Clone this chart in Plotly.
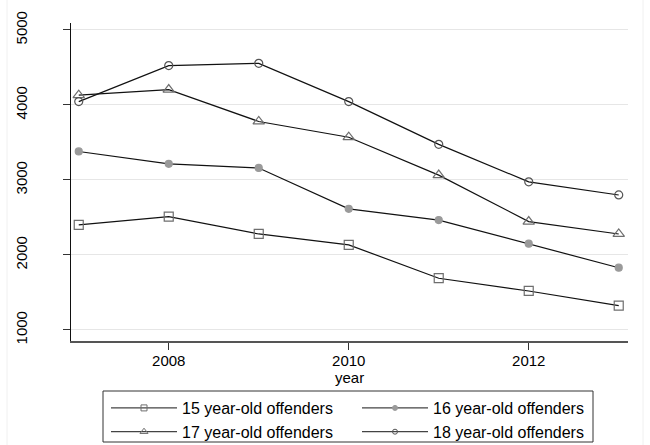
import plotly.graph_objects as go

# Offenders by age, 2007-2013
years = [2007, 2008, 2009, 2010, 2011, 2012, 2013]
age15 = [2400, 2510, 2280, 2135, 1690, 1520, 1325]
age16 = [3380, 3215, 3160, 2615, 2465, 2150, 1830]
age17 = [4130, 4205, 3780, 3570, 3065, 2445, 2280]
age18 = [4045, 4525, 4555, 4045, 3475, 2975, 2800]

series_names = ["15 year-old offenders", "16 year-old offenders",
                "17 year-old offenders", "18 year-old offenders"]
x_ticks = [2008, 2010, 2012]
y_ticks = [1000, 2000, 3000, 4000, 5000]
x_title = "year"

FONT = "Arial, Liberation Sans, sans-serif"
W, H = 650, 445
ML, MR, MT, MB = 71, 22, 23, 104
PW, PH = W - ML - MR, H - MT - MB

styles = [
    dict(symbol="square-open", size=9, lsize=6, color="#6e6e6e"),
    dict(symbol="circle", size=7, lsize=5, color="#9a9a9a"),
    dict(symbol="triangle-up-open", size=10, lsize=7, color="#6e6e6e"),
    dict(symbol="circle-open", size=8, lsize=5, color="#555555"),
]

fig = go.Figure()
for name, vals, st in zip(series_names, [age15, age16, age17, age18], styles):
    fig.add_trace(go.Scatter(
        x=years, y=vals, name=name, mode="lines+markers", showlegend=False,
        line=dict(color="#111111", width=1.2),
        marker=dict(symbol=st["symbol"], size=st["size"], color=st["color"],
                    line=dict(color=st["color"], width=1.2)),
    ))

# legend keys use smaller markers than the plotted points
for name, st in zip(series_names, styles):
    fig.add_trace(go.Scatter(
        x=[None], y=[None], name=name, mode="lines+markers",
        line=dict(color="#444444", width=1.2),
        marker=dict(symbol=st["symbol"], size=st["lsize"], color=st["color"],
                    line=dict(color=st["color"], width=1)),
    ))


def px_x(p):
    return (p - ML) / PW


def px_y(p):
    return (H - MB - p) / PH


fig.update_layout(
    width=W, height=H,
    margin=dict(l=ML, r=MR, t=MT, b=MB, pad=0, autoexpand=False),
    paper_bgcolor="white", plot_bgcolor="white",
    font=dict(family=FONT, size=15, color="#000000"),
    showlegend=True,
    legend=dict(
        orientation="h", xref="container", yref="container",
        x=106 / W, xanchor="left",
        y=1 - 391 / H, yanchor="top",
        bgcolor="rgba(0,0,0,0)", borderwidth=0,
        font=dict(size=16), entrywidth=170, itemwidth=66,
        tracegroupgap=0, traceorder="normal",
    ),
    xaxis=dict(
        range=[2006.914, 2013.103], tickvals=x_ticks, automargin=False,
        ticks="outside", ticklen=7, tickcolor="#333333",
        showline=True, linecolor="#555555", linewidth=1.5,
        showgrid=False, zeroline=False, ticklabelstandoff=-2,
    ),
    yaxis=dict(
        range=[853, 5093], tickvals=y_ticks, tickangle=-90, automargin=False,
        ticks="outside", ticklen=7, tickcolor="#333333",
        showline=True, linecolor="#111111", linewidth=1,
        showgrid=True, gridcolor="#e6e6e6", gridwidth=1,
        zeroline=False, ticklabelstandoff=30,
    ),
    annotations=[
        dict(text=x_title, xref="paper", yref="paper", x=0.5, y=px_y(377),
             xanchor="center", yanchor="middle", showarrow=False,
             font=dict(size=15)),
    ],
    shapes=[
        # legend frame
        dict(type="rect", xref="paper", yref="paper",
             x0=px_x(103), x1=px_x(593), y0=px_y(442), y1=px_y(391),
             line=dict(color="#333333", width=1)),
        # outer graph-region edges
        dict(type="line", xref="paper", yref="paper",
             x0=px_x(7), x1=px_x(7), y0=px_y(H + 5), y1=px_y(-5),
             line=dict(color="#f0f0f0", width=1)),
        dict(type="line", xref="paper", yref="paper",
             x0=px_x(643), x1=px_x(643), y0=px_y(H + 5), y1=px_y(-5),
             line=dict(color="#f0f0f0", width=1)),
    ],
)

fig.write_html("out.html")
